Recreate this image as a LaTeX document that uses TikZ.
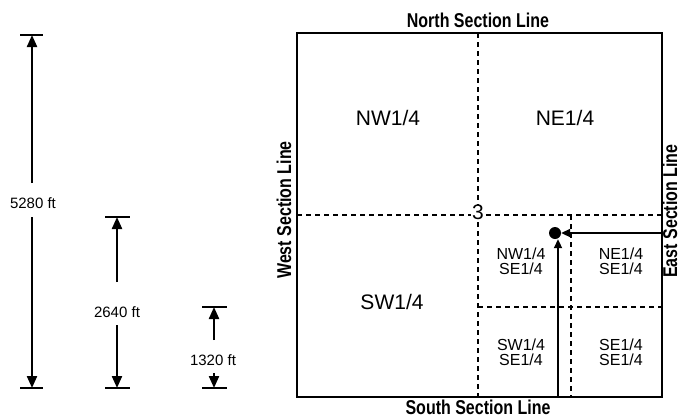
\documentclass[tikz,border=0pt]{standalone}
\usepackage{fontspec}
\setmainfont{Liberation Sans}
\newfontfamily\linefont{Liberation Sans}[FakeStretch=0.8]
\usetikzlibrary{arrows.meta}

\begin{document}
\begin{tikzpicture}[x=1pt, y=-1pt,
    border/.style = {line width=2.5pt},
    divider/.style = {line width=1.7pt, dash pattern=on 5pt off 4pt},
    dimarrow/.style = {line width=2.2pt, -{Triangle[width=10pt,length=12pt]}},
    dimtick/.style = {line width=2.5pt},
    dimlabel/.style = {font=\fontsize{15}{15}\selectfont, inner sep=0pt},
    quarter/.style = {font=\fontsize{21}{21}\selectfont, inner sep=0pt},
    sixteenth/.style = {font=\fontsize{16}{15}\selectfont, align=center, inner sep=0pt},
    sectionline/.style = {font=\linefont\bfseries\fontsize{20}{20}\selectfont, inner sep=0pt},
    pointer/.style = {line width=2pt, -{Triangle[width=8pt,length=9pt]}}]
    \useasboundingbox (0,0) rectangle (679,418);

    % Dimension bars
    \coordinate (t1) at (32,35);   \coordinate (b1) at (32,388);
    \coordinate (t2) at (117,217); \coordinate (b2) at (117,388);
    \coordinate (t3) at (214,307); \coordinate (b3) at (214,388);
    \draw[dimtick] (20,35) -- (43,35);   \draw[dimtick] (20,388) -- (43,388);
    \draw[dimtick] (105,217) -- (130,217); \draw[dimtick] (105,388) -- (130,388);
    \draw[dimtick] (202,307) -- (227,307); \draw[dimtick] (202,388) -- (227,388);

    \node[dimlabel] (d1) at (33,203) {5280 ft};
    \node[dimlabel] (d2) at (117,312) {2640 ft};
    \node[dimlabel] (d3) at (213,360) {1320 ft};
    \coordinate (d1a) at (32,183); \coordinate (d1b) at (32,217);
    \coordinate (d2a) at (117,282); \coordinate (d2b) at (117,325);
    \coordinate (d3a) at (214,340); \coordinate (d3b) at (214,373);
    \draw[dimarrow] (d1a) -- (t1);
    \draw[dimarrow] (d1b) -- (b1);
    \draw[dimarrow] (d2a) -- (t2);
    \draw[dimarrow] (d2b) -- (b2);
    \draw[dimarrow] (d3a) -- (t3);
    \draw[dimarrow] (d3b) -- (b3);

    % Section 3
    \draw[divider] (478,33) -- (478,397);
    \draw[divider] (297,215) -- (662,215);
    \draw[divider] (571,215) -- (571,397);
    \draw[divider] (478,307) -- (662,307);
    \draw[border] (297,33) rectangle (662,397);
    \node[quarter, fill=white, inner xsep=1pt] (sec) at (478,212) {3};

    % Quarter labels
    \node[quarter] (nw) at (388,118) {NW1/4};
    \node[quarter] (ne) at (565,118) {NE1/4};
    \node[quarter] (sw) at (392,302) {SW1/4};
    \node[sixteenth] (nwse) at (521,261) {NW1/4\\SE1/4};
    \node[sixteenth] (nese) at (621,261) {NE1/4\\SE1/4};
    \node[sixteenth] (swse) at (521,352) {SW1/4\\SE1/4};
    \node[sixteenth] (sese) at (621,352) {SE1/4\\SE1/4};

    % Section line labels
    \node[sectionline] (north) at (478,20) {North Section Line};
    \node[sectionline] (south) at (478,407) {South Section Line};
    \node[sectionline, rotate=90] (west) at (284,210) {West Section Line};
    \node[sectionline, rotate=90] (east) at (670,211) {East Section Line};

    % Corner point
    \node[circle, fill, inner sep=0pt, minimum size=12pt] (pt) at (555,233) {};
    \coordinate (south in) at (558,397);
    \coordinate (east in) at (662,233);
    \draw[pointer] (south in) -- (pt.south -| south in);
    \draw[pointer] (east in) -- (pt.east |- east in);
\end{tikzpicture}
\end{document}
